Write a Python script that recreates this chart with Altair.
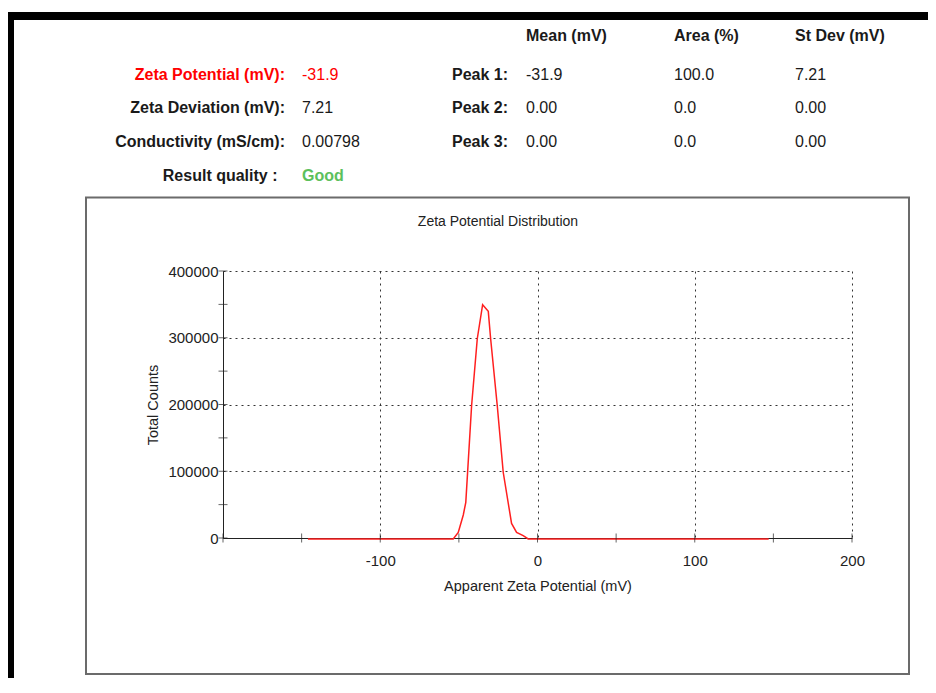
import altair as alt
import pandas as pd

# ---------------- data ----------------
zeta_mv = [-146, -53.6, -50.4, -47.2, -45.6, -41.9, -38.3, -34.9, -31.3, -29.8,
           -25.6, -21.8, -16.5, -13.3, -9.1, -5.9, 147]
total_counts = [0, 0, 9900, 36000, 55000, 200000, 300000, 351000, 341000, 300000,
                200000, 100000, 23400, 9900, 5000, 0, 0]

x_tick_values = [-200, -150, -100, -50, 0, 50, 100, 150, 200]
y_tick_values = [0, 50000, 100000, 150000, 200000, 250000, 300000, 350000, 400000]
x_grid_values = [-200, -100, 0, 100, 200]
y_grid_values = [0, 100000, 200000, 300000, 400000]

summary_labels = ["Zeta Potential (mV):", "Zeta Deviation (mV):",
                  "Conductivity (mS/cm):", "Result quality :"]
summary_values = ["-31.9", "7.21", "0.00798", "Good"]
column_headers = ["Mean (mV)", "Area (%)", "St Dev (mV)"]
peak_labels = ["Peak 1:", "Peak 2:", "Peak 3:"]
peak_mean = ["-31.9", "0.00", "0.00"]
peak_area = ["100.0", "0.0", "0.0"]
peak_stdev = ["7.21", "0.00", "0.00"]

chart_title = "Zeta Potential Distribution"
x_title = "Apparent Zeta Potential (mV)"
y_title = "Total Counts"

# ---------------- layout / style ----------------
OX, OY = 223, 271          # page position of plot origin
W, H = 629, 267
SANS = "Liberation Sans"
INK = "#1a1a1a"
AX = "#222"


def txt(s, px, py, size=16, bold=False, color=INK, align="left", font=SANS):
    return alt.Chart(pd.DataFrame({"t": [s]})).mark_text(
        align=align, baseline="middle", font=font, fontSize=size,
        fontWeight="bold" if bold else "normal", color=color
    ).encode(x=alt.value(px - OX), y=alt.value(py - OY), text="t:N")


def box(x1, x2, y1, y2, **kw):
    return alt.Chart(pd.DataFrame({"k": [0]})).mark_rect(**kw).encode(
        x=alt.value(x1 - OX), x2=alt.value(x2 - OX),
        y=alt.value(y1 - OY), y2=alt.value(y2 - OY))


xscale = alt.Scale(domain=[-200, 200], nice=False, zero=False)
yscale = alt.Scale(domain=[0, 400000], nice=False)

xaxis = alt.Axis(
    values=x_grid_values, grid=True, gridDash=[2, 4], gridColor="#333", gridWidth=1,
    ticks=False, tickSize=0, domainColor=AX, domainWidth=1,
    labelExpr="datum.value == -200 ? '' : '' + datum.value",
    labelFont=SANS, labelFontSize=15, labelColor=AX, labelBaseline="middle",
    labelPadding=22, labelFlush=False, labelOverlap=False,
    title=x_title, titleFont=SANS, titleFontSize=14.5, titleFontWeight="normal",
    titleColor=AX, titleX=W / 2, titleY=48, titleBaseline="middle", titleAlign="center",
)
yaxis = alt.Axis(
    values=y_grid_values, grid=True, gridDash=[2, 4], gridColor="#333", gridWidth=1,
    ticks=False, tickSize=0, domainColor=AX, domainWidth=1, format="d",
    labelFont=SANS, labelFontSize=15, labelColor=AX, labelBaseline="middle",
    labelPadding=5, labelFlush=False, labelOverlap=False,
    title=y_title, titleFont=SANS, titleFontSize=14.5, titleFontWeight="normal",
    titleColor=AX, titleX=-70, titleY=H / 2, titleAngle=-90,
    titleBaseline="middle", titleAlign="center",
)

x_enc = alt.X("mv:Q", scale=xscale, axis=xaxis)
y_enc = alt.Y("counts:Q", scale=yscale, axis=yaxis)

curve = alt.Chart(pd.DataFrame({"mv": zeta_mv, "counts": total_counts})).mark_line(
    color="#ff1f1f", strokeWidth=1.5, yOffset=1
).encode(x=x_enc, y=y_enc)

x_ticks = alt.Chart(pd.DataFrame({"mv": x_tick_values})).mark_tick(
    orient="vertical", size=9, thickness=1, color=AX
).encode(x=x_enc, y=alt.value(H))

y_ticks = alt.Chart(pd.DataFrame({"counts": y_tick_values})).mark_tick(
    orient="horizontal", size=9, thickness=1, color=AX
).encode(y=y_enc, x=alt.value(0))

layers = [curve, x_ticks, y_ticks]

# frames
layers.append(box(8, 928, 12, 20, color="black"))
layers.append(box(8, 14, 12, 678, color="black"))
layers.append(box(86, 909, 197.5, 674, filled=False, stroke="#6b6b6b", strokeWidth=2))

# chart title
layers.append(txt(chart_title, 498, 222, size=14, align="center", color=AX))

# summary block
row_y = [75, 108, 142, 176]
label_right = [285, 285, 285, 277.5]
value_colors = ["#ff0000", INK, INK, "#5cc05c"]
label_colors = ["#ff0000", INK, INK, INK]
for i, (lab, val) in enumerate(zip(summary_labels, summary_values)):
    layers.append(txt(lab, label_right[i], row_y[i], bold=True, color=label_colors[i], align="right"))
    layers.append(txt(val, 302, row_y[i], bold=(i == 3), color=value_colors[i]))

col_x = [526, 674, 795]
for cx, head in zip(col_x, column_headers):
    layers.append(txt(head, cx, 36, bold=True))

for i, pl in enumerate(peak_labels):
    layers.append(txt(pl, 452, row_y[i], bold=True))
    for cx, col in zip(col_x, [peak_mean, peak_area, peak_stdev]):
        layers.append(txt(col[i], cx, row_y[i]))

chart = alt.layer(*layers).properties(
    width=W, height=H,
    padding={"left": 215, "top": 263, "right": 76, "bottom": 140},
    autosize=alt.AutoSizeParams(type="none"),
).configure_view(stroke=None)

chart.save("out.html", embed_options={"renderer": "svg", "actions": False})
